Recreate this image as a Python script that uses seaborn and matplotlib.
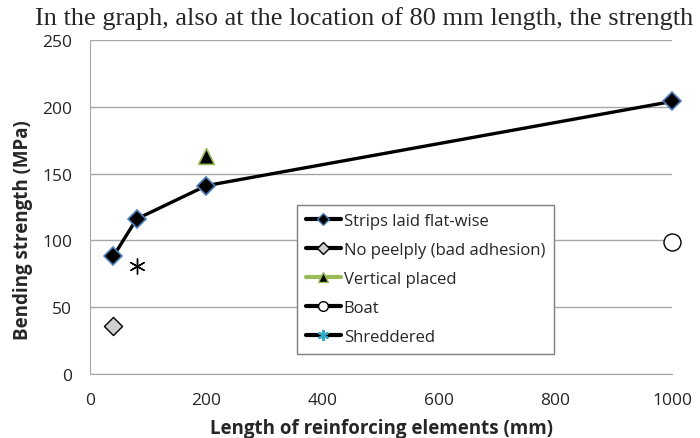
import numpy as np
import pandas as pd
import matplotlib
matplotlib.use("Agg")
import matplotlib.pyplot as plt
from matplotlib.lines import Line2D
import seaborn as sns

# data
strips_len = [40, 80, 200, 1000]
strips_mpa = [88, 116, 141, 204]
peelply_len = [40]
peelply_mpa = [36]
vertical_len = [200]
vertical_mpa = [163]
boat_len = [1000]
boat_mpa = [99]
shred_len = [80]
shred_mpa = [81]

x_ticks = [0, 200, 400, 600, 800, 1000]
y_ticks = [0, 50, 100, 150, 200, 250]
legend_labels = ["Strips laid flat-wise", "No peelply (bad adhesion)", "Vertical placed",
                 "Boat", "Shreddered"]

sns.set_style("white")
plt.rcParams['font.family'] = ['Open Sans', 'DejaVu Sans']

fig = plt.figure(figsize=(7, 4.39), dpi=100)
ax = fig.add_axes([90 / 700, 1 - 375 / 439, 582 / 700, 334 / 439])

strips = pd.DataFrame({"len": strips_len, "mpa": strips_mpa})
sns.lineplot(data=strips, x="len", y="mpa", ax=ax, color="black", lw=2.4,
             marker="D", markersize=9, markerfacecolor="black",
             markeredgecolor="#4f81bd", markeredgewidth=1.2, zorder=4, clip_on=False)

sns.scatterplot(x=peelply_len, y=peelply_mpa, ax=ax, marker="D", s=85,
                color="#d0d0d0", edgecolor="black", linewidth=1, zorder=4)
sns.scatterplot(x=vertical_len, y=vertical_mpa, ax=ax, marker="^", s=130,
                color="black", edgecolor="#9bbb59", linewidth=1.2, zorder=4)
sns.scatterplot(x=boat_len, y=boat_mpa, ax=ax, marker="o", s=150,
                color="white", edgecolor="black", linewidth=1, zorder=4, clip_on=False)
sns.scatterplot(x=shred_len, y=shred_mpa, ax=ax, marker=(6, 2, 0), s=120,
                color="black", edgecolor="black", linewidth=1, zorder=4)

ax.set_xlim(0, 1000)
ax.set_ylim(0, 250)
ax.set_xticks(x_ticks)
ax.set_yticks(y_ticks)
ax.yaxis.grid(True, color="#a6a6a6", lw=1)
ax.xaxis.grid(False)
for side in ["top", "right"]:
    ax.spines[side].set_visible(False)
for side in ["left", "bottom"]:
    ax.spines[side].set_color("#a6a6a6")
ax.tick_params(axis="x", direction="out", length=6, color="#a6a6a6", labelsize=12.5, pad=7)
ax.tick_params(axis="y", direction="out", length=6, color="#a6a6a6", labelsize=12.5, pad=7)
ax.set_xlabel("Length of reinforcing elements (mm)", fontsize=13.5, fontweight="bold", labelpad=7)
ax.set_ylabel("Bending strength (MPa)", fontsize=13.5, fontweight="bold")
ax.yaxis.set_label_coords(-0.098, 0.434)

handles = [
    Line2D([], [], color="black", lw=3, marker="D", markersize=6,
           markerfacecolor="black", markeredgecolor="#4f81bd"),
    Line2D([], [], color="black", lw=3, marker="D", markersize=6,
           markerfacecolor="#d0d0d0", markeredgecolor="black"),
    Line2D([], [], color="#9bbb59", lw=3, marker="^", markersize=7,
           markerfacecolor="black", markeredgecolor="#9bbb59"),
    Line2D([], [], color="black", lw=3, marker="o", markersize=7,
           markerfacecolor="white", markeredgecolor="black"),
    Line2D([], [], color="black", lw=3, marker=(6, 2, 0), markersize=8,
           markeredgecolor="#31a8c4", markeredgewidth=1.5),
]
leg = ax.legend(handles, legend_labels, loc="upper left", bbox_to_anchor=(0.356, 0.506),
                fontsize=12, frameon=True, fancybox=False, framealpha=1,
                edgecolor="#7f7f7f", handlelength=2.1, handletextpad=0.2,
                labelspacing=0.78, borderpad=0.5, borderaxespad=0)
leg.get_frame().set_linewidth(1)

fig.text(35 / 700, 1 - 25 / 439, "In the graph, also at the location of 80 mm length, the strength",
         fontsize=19, family=["Liberation Serif", "DejaVu Serif"], va="baseline", ha="left")

fig.savefig("out.png", dpi=100)
